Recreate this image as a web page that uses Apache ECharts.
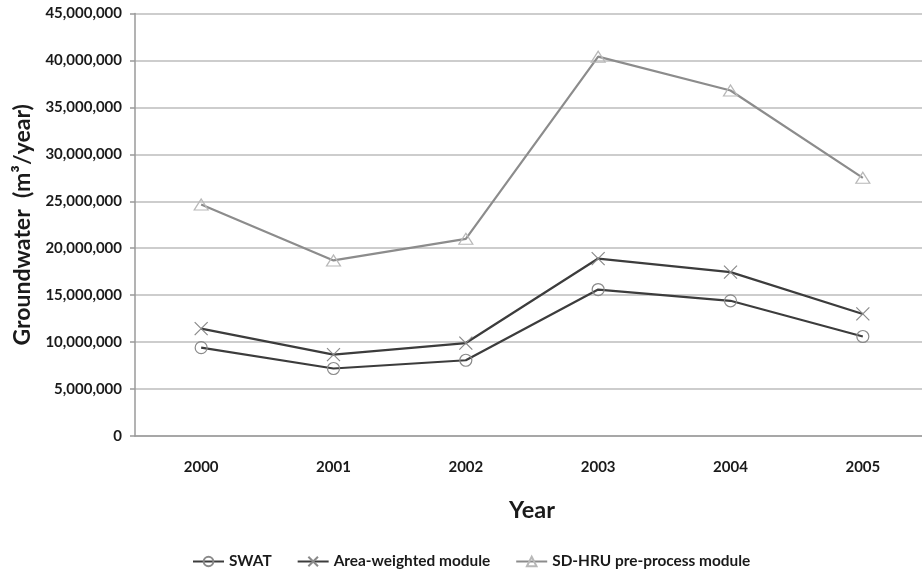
<!DOCTYPE html>
<html><head><meta charset="utf-8">
<script src="https://cdn.jsdelivr.net/npm/echarts@6/dist/echarts.min.js"></script>
<style>html,body{margin:0;padding:0;background:#fff}#c{width:922px;height:574px}</style>
</head><body><div id="c"></div>
<script>
const years = ['2000','2001','2002','2003','2004','2005'];
const swat = [9410000, 7190000, 8070000, 15600000, 14400000, 10600000];
const areaWeighted = [11430000, 8670000, 9900000, 18900000, 17450000, 13000000];
const sdHru = [24650000, 18700000, 21000000, 40400000, 36800000, 27500000];
const yTicks = [0, 5000000, 10000000, 15000000, 20000000, 25000000, 30000000, 35000000, 40000000, 45000000];

const font = 'Lato, "Open Sans", sans-serif';
const xPath = 'path://M0,0L10,10M10,0L0,10';
const chart = echarts.init(document.getElementById('c'));
chart.setOption({
  animation: false,
  backgroundColor: '#fff',
  grid: {left: 135, width: 794, top: 13.5, height: 422.5, containLabel: false, outerBoundsMode: 'none'},
  legend: {
    bottom: 0, left: 187, itemGap: 25, itemWidth: 31, itemHeight: 12,
    textStyle: {fontFamily: font, fontWeight: 700, fontSize: 15.4, color: '#1a1a1a'},
    data: ['SWAT', 'Area-weighted module', 'SD-HRU pre-process module']
  },
  xAxis: {
    type: 'category', data: years, boundaryGap: true,
    name: 'Year', nameLocation: 'middle', nameGap: 62,
    nameTextStyle: {fontFamily: font, fontWeight: 700, fontSize: 23.5, color: '#1a1a1a'},
    axisLine: {lineStyle: {color: '#9a9a9a', width: 1.5}},
    axisTick: {show: false},
    axisLabel: {margin: 24, fontFamily: font, fontWeight: 700, fontSize: 15, color: '#1a1a1a'}
  },
  yAxis: {
    type: 'value', min: 0, max: 45000000, interval: 5000000,
    name: 'Groundwater  (m³/year)', nameLocation: 'middle', nameGap: 101,
    nameTextStyle: {fontFamily: font, fontWeight: 700, fontSize: 23, color: '#1a1a1a'},
    axisLine: {show: true, lineStyle: {color: '#9a9a9a', width: 1.5}},
    axisTick: {show: true, length: 5, lineStyle: {color: '#9a9a9a', width: 1.5}},
    splitLine: {lineStyle: {color: '#bdbdbd', width: 1.5}},
    axisLabel: {
      margin: 13, fontFamily: font, fontWeight: 700, fontSize: 15, color: '#1a1a1a',
      formatter: v => yTicks.includes(v) ? v.toLocaleString('en-US') : ''
    }
  },
  series: [
    {
      name: 'SWAT', type: 'line', data: swat,
      symbol: 'circle', symbolSize: 12,
      lineStyle: {color: '#3c3c3c', width: 2.2},
      itemStyle: {color: 'rgba(255,255,255,0)', borderColor: '#8a8a8a', borderWidth: 1.2}
    },
    {
      name: 'Area-weighted module', type: 'line', data: areaWeighted,
      symbol: xPath, symbolSize: 13,
      lineStyle: {color: '#3c3c3c', width: 2.2},
      itemStyle: {color: 'rgba(255,255,255,0)', borderColor: '#8a8a8a', borderWidth: 1.2}
    },
    {
      name: 'SD-HRU pre-process module', type: 'line', data: sdHru,
      symbol: 'triangle', symbolSize: [14, 11],
      lineStyle: {color: '#8c8c8c', width: 2.2},
      itemStyle: {color: 'rgba(255,255,255,0)', borderColor: '#b8b8b8', borderWidth: 1.2}
    }
  ]
});
</script></body></html>
